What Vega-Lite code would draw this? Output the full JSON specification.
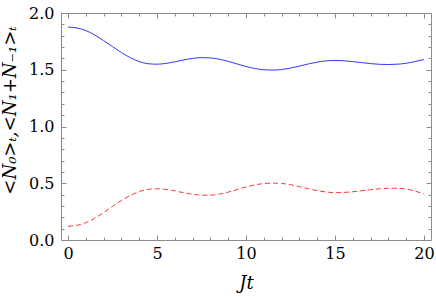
{
  "$schema": "https://vega.github.io/schema/vega-lite/v6.json",
  "autosize": {"type": "none"},
  "padding": {"left": 61, "top": 13, "right": 5, "bottom": 57},
  "width": 370,
  "height": 227,
  "background": "white",
  "config": {
    "view": {"stroke": "#8c8c8c", "strokeWidth": 1},
    "axis": {
      "grid": false,
      "domain": false,
      "tickColor": "#8c8c8c",
      "tickWidth": 1,
      "labelFont": "DejaVu Serif",
      "labelFontSize": 16,
      "labelColor": "black",
      "titleFont": "DejaVu Serif",
      "titleFontSize": 18,
      "titleFontWeight": "normal",
      "titleFontStyle": "italic",
      "titleColor": "black",
      "labelFlush": false,
      "labelOverlap": false
    }
  },
  "data": {
    "values": [
      {"Jt": 0, "N0": 1.876, "N1": 0.12},
      {"Jt": 0.5, "N0": 1.868, "N1": 0.13},
      {"Jt": 1, "N0": 1.845, "N1": 0.153},
      {"Jt": 1.5, "N0": 1.806, "N1": 0.192},
      {"Jt": 2, "N0": 1.756, "N1": 0.242},
      {"Jt": 2.5, "N0": 1.703, "N1": 0.296},
      {"Jt": 3, "N0": 1.651, "N1": 0.348},
      {"Jt": 3.5, "N0": 1.606, "N1": 0.393},
      {"Jt": 4, "N0": 1.572, "N1": 0.427},
      {"Jt": 4.5, "N0": 1.553, "N1": 0.446},
      {"Jt": 5, "N0": 1.549, "N1": 0.451},
      {"Jt": 5.5, "N0": 1.556, "N1": 0.446},
      {"Jt": 6, "N0": 1.57, "N1": 0.433},
      {"Jt": 6.5, "N0": 1.587, "N1": 0.416},
      {"Jt": 7, "N0": 1.6, "N1": 0.403},
      {"Jt": 7.5, "N0": 1.607, "N1": 0.395},
      {"Jt": 8, "N0": 1.604, "N1": 0.395},
      {"Jt": 8.5, "N0": 1.593, "N1": 0.404},
      {"Jt": 9, "N0": 1.574, "N1": 0.422},
      {"Jt": 9.5, "N0": 1.551, "N1": 0.445},
      {"Jt": 10, "N0": 1.529, "N1": 0.467},
      {"Jt": 10.5, "N0": 1.511, "N1": 0.486},
      {"Jt": 11, "N0": 1.5, "N1": 0.497},
      {"Jt": 11.5, "N0": 1.497, "N1": 0.501},
      {"Jt": 12, "N0": 1.502, "N1": 0.498},
      {"Jt": 12.5, "N0": 1.515, "N1": 0.487},
      {"Jt": 13, "N0": 1.532, "N1": 0.47},
      {"Jt": 13.5, "N0": 1.551, "N1": 0.451},
      {"Jt": 14, "N0": 1.567, "N1": 0.435},
      {"Jt": 14.5, "N0": 1.578, "N1": 0.423},
      {"Jt": 15, "N0": 1.582, "N1": 0.417},
      {"Jt": 15.5, "N0": 1.579, "N1": 0.419},
      {"Jt": 16, "N0": 1.572, "N1": 0.425},
      {"Jt": 16.5, "N0": 1.563, "N1": 0.434},
      {"Jt": 17, "N0": 1.554, "N1": 0.443},
      {"Jt": 17.5, "N0": 1.548, "N1": 0.451},
      {"Jt": 18, "N0": 1.546, "N1": 0.456},
      {"Jt": 18.5, "N0": 1.549, "N1": 0.456},
      {"Jt": 19, "N0": 1.557, "N1": 0.449},
      {"Jt": 19.5, "N0": 1.572, "N1": 0.431},
      {"Jt": 20, "N0": 1.59, "N1": 0.405}
    ]
  },
  "resolve": {"axis": {"x": "independent", "y": "independent"}},
  "layer": [
    {
      "mark": {"type": "line", "color": "#3535ff", "strokeWidth": 1, "interpolate": "monotone", "clip": true},
      "encoding": {
        "x": {
          "field": "Jt", "type": "quantitative",
          "scale": {"domain": [-0.4, 20.4], "nice": false, "zero": false},
          "axis": {
            "orient": "bottom",
            "title": "Jt",
            "values": [0,1,2,3,4,5,6,7,8,9,10,11,12,13,14,15,16,17,18,19,20],
            "labelExpr": "datum.value % 5 === 0 ? datum.label : ''",
            "tickSize": {"condition": {"test": "datum.value % 5 === 0", "value": -5}, "value": -3},
            "labelPadding": 10,
            "titleBaseline": "alphabetic",
            "titleY": 48
          }
        },
        "y": {
          "field": "N0", "type": "quantitative",
          "scale": {"domain": [0, 2], "nice": false},
          "axis": {
            "orient": "left",
            "title": "<N₀>ₜ,<N₁+N₋₁>ₜ",
            "values": [0,0.1,0.2,0.3,0.4,0.5,0.6,0.7,0.8,0.9,1,1.1,1.2,1.3,1.4,1.5,1.6,1.7,1.8,1.9,2],
            "labelExpr": "abs(datum.value*2 - round(datum.value*2)) < 0.001 ? format(datum.value, '.1f') : ''",
            "tickSize": {"condition": {"test": "abs(datum.value*2 - round(datum.value*2)) < 0.001", "value": -5}, "value": -3},
            "labelPadding": 12,
            "titleAngle": -90,
            "titleAlign": "center",
            "titleBaseline": "middle",
            "titleX": -51,
            "titleY": 97
          }
        }
      }
    },
    {
      "mark": {"type": "line", "color": "#ff3535", "strokeWidth": 1, "strokeDash": [5, 3], "interpolate": "monotone", "clip": true},
      "encoding": {
        "x": {
          "field": "Jt", "type": "quantitative",
          "scale": {"domain": [-0.4, 20.4], "nice": false, "zero": false},
          "axis": {
            "orient": "top",
            "title": null,
            "values": [0,1,2,3,4,5,6,7,8,9,10,11,12,13,14,15,16,17,18,19,20],
            "labels": false,
            "tickSize": {"condition": {"test": "datum.value % 5 === 0", "value": -5}, "value": -3}
          }
        },
        "y": {
          "field": "N1", "type": "quantitative",
          "scale": {"domain": [0, 2], "nice": false},
          "axis": {
            "orient": "right",
            "title": null,
            "values": [0,0.1,0.2,0.3,0.4,0.5,0.6,0.7,0.8,0.9,1,1.1,1.2,1.3,1.4,1.5,1.6,1.7,1.8,1.9,2],
            "labels": false,
            "tickSize": {"condition": {"test": "abs(datum.value*2 - round(datum.value*2)) < 0.001", "value": -5}, "value": -3}
          }
        }
      }
    }
  ]
}
